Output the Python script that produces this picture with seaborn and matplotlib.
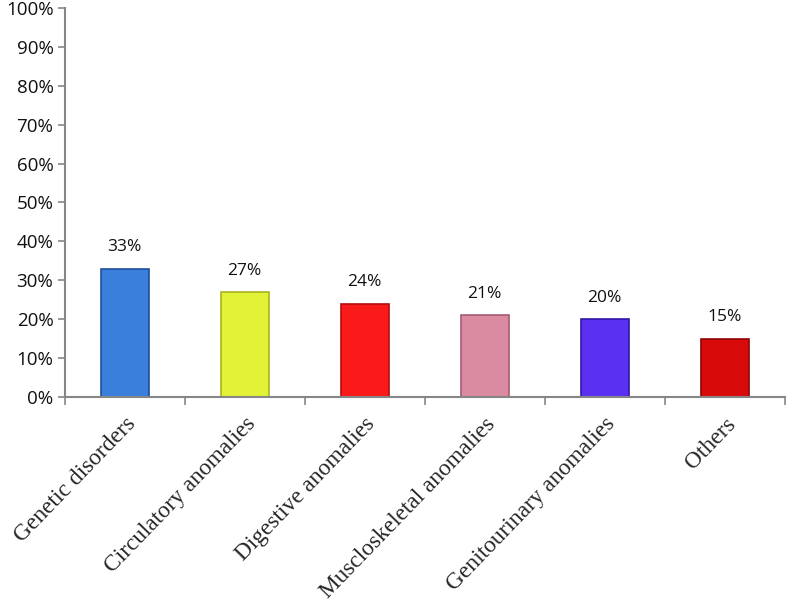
import numpy as np
from matplotlib import pyplot as plt
from matplotlib.ticker import FixedLocator, PercentFormatter
import seaborn as sns
import pandas as pd

categories = ["Genetic disorders", "Circulatory anomalies", "Digestive anomalies",
              "Muscloskeletal anomalies", "Genitourinary anomalies", "Others"]
values = [33, 27, 24, 21, 20, 15]
colors = ["#3b7fdc", "#e2f236", "#fb1a1a", "#da8ba2", "#5a30f2", "#d80a0a"]
edges = ["#1f4f9a", "#a9b41c", "#b40e0e", "#a55c72", "#3317a8", "#8f0505"]

df = pd.DataFrame({"Category": categories, "Value": values})

sns.set_style("white")
fig = plt.figure(figsize=(7.87, 6.08), dpi=100)
ax = fig.add_axes([0.082, 0.347, 0.915, 0.64])

sns.barplot(data=df, x="Category", y="Value", hue="Category", palette=colors,
            legend=False, width=0.4, ax=ax, saturation=1)
for patch, ec in zip(ax.patches, edges):
    patch.set_edgecolor(ec)
    patch.set_linewidth(1.2)

# value labels
for i, v in enumerate(values):
    ax.text(i, v + 5.5, f"{v}%", ha="center", va="center", fontsize=12.5,
            family="Open Sans", color="#111111")

ax.set_ylim(0, 100)
ax.set_xlim(-0.5, len(categories) - 0.5)
ax.yaxis.set_major_locator(FixedLocator(np.arange(0, 101, 10)))
ax.yaxis.set_major_formatter(PercentFormatter(decimals=0))
ax.tick_params(axis="y", labelsize=13.5, length=5, width=1.2, color="#868686",
               direction="out", left=True, pad=3, labelcolor="#111111")
for t in ax.get_yticklabels():
    t.set_family("Open Sans")

# category ticks sit between bars
ax.set_xticks(range(len(categories)))
ax.set_xticklabels(categories, rotation=46, ha="right", rotation_mode="anchor",
                   family="Liberation Serif", fontsize=16.8)
ax.set_xticks(np.arange(-0.5, len(categories)), minor=True)
ax.tick_params(axis="x", which="major", length=0, pad=12)
ax.tick_params(axis="x", which="minor", length=6, width=1.2, color="#868686",
               direction="out", bottom=True)

for s in ["top", "right"]:
    ax.spines[s].set_visible(False)
for s in ["left", "bottom"]:
    ax.spines[s].set_color("#868686")
    ax.spines[s].set_linewidth(1.5)

ax.set_xlabel("")
ax.set_ylabel("")
fig.savefig("out.png", dpi=100)
